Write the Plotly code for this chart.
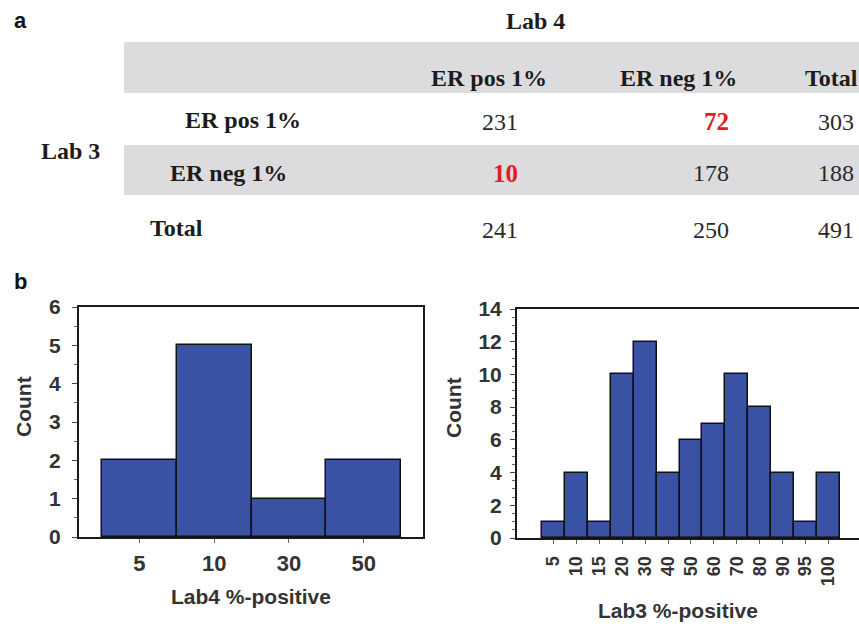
import plotly.graph_objects as go

W, H = 859, 624

# ---------------- data ----------------
lab4_bins = ["5", "10", "30", "50"]
lab4_counts = [2, 5, 1, 2]

lab3_bins = ["5", "10", "15", "20", "30", "40", "50", "60", "70", "80", "90", "95", "100"]
lab3_counts = [1, 4, 1, 10, 12, 4, 6, 7, 10, 8, 4, 1, 4]

table_col_labels = ["ER pos 1%", "ER neg 1%", "Total"]
table_row_labels = ["ER pos 1%", "ER neg 1%", "Total"]
table_values = [
    [231, 72, 303],
    [10, 178, 188],
    [241, 250, 491],
]
discordant_cells = [(0, 1), (1, 0)]

# ---------------- helpers ----------------
def px(x):
    return x / W

def py(y):
    return 1 - y / H

SERIF = "Liberation Serif"
SANS = "Liberation Sans"
BAR = "#3a52a3"
TXT = "#1c1c1c"
AXT = "#333333"

fig = go.Figure()

fig.add_trace(go.Bar(
    x=lab4_bins, y=lab4_counts, width=1,
    marker=dict(color=BAR, line=dict(color="#111111", width=1.5)),
    xaxis="x", yaxis="y", showlegend=False, hoverinfo="skip"))

fig.add_trace(go.Bar(
    x=lab3_bins, y=lab3_counts, width=1,
    marker=dict(color=BAR, line=dict(color="#111111", width=1.5)),
    xaxis="x2", yaxis="y2", showlegend=False, hoverinfo="skip"))

tickfont = dict(family=SANS, size=21, color=AXT, weight="bold")

common_x = dict(type="category", showgrid=False, zeroline=False,
                ticks="outside", ticklen=4, tickcolor="#666666", tickwidth=1,
                showline=True, linecolor="#1a1a1a", linewidth=2, mirror=True,
                fixedrange=True, automargin=False)
common_y = dict(showgrid=False, zeroline=False, ticks="outside", ticklen=5,
                tickcolor="#444444", tickwidth=1,
                showline=True, linecolor="#1a1a1a", linewidth=2,
                tickfont=tickfont, fixedrange=True, automargin=False)

fig.update_layout(
    width=W, height=H, autosize=False,
    margin=dict(l=0, r=0, t=0, b=0, autoexpand=False),
    paper_bgcolor="white", plot_bgcolor="white",
    bargap=0,
    xaxis=dict(**common_x, domain=[px(79), px(423)], range=[-0.808, 3.794],
               tickfont=dict(family=SANS, size=22, color=AXT, weight="bold"),
               ticklabelstandoff=2, anchor="y"),
    yaxis=dict(**common_y, domain=[py(537), py(307)], range=[0, 6], dtick=1,
               mirror=True, anchor="x", ticklabelstandoff=7,
               minor=dict(dtick=0.5, ticks="outside", ticklen=3, tickcolor="#666666")),
    xaxis2=dict(**common_x, domain=[px(517), 1.0], range=[-1.59, 13.33],
                tickangle=-90, tickfont=dict(family=SANS, size=18, color=AXT, weight="bold"),
                ticklabelstandoff=5, anchor="y2"),
    yaxis2=dict(**common_y, domain=[py(538), py(309)], range=[0, 14], dtick=2,
                mirror=False, anchor="x2", ticklabelstandoff=4,
                minor=dict(dtick=0.5, ticks="outside", ticklen=3, tickcolor="#666666")),
)

shapes = []
for (y0, y1) in [(42, 93), (145, 195)]:
    shapes.append(dict(type="rect", xref="paper", yref="paper",
                       x0=px(124), x1=1.0, y0=py(y1), y1=py(y0),
                       fillcolor="#dcdcde", line=dict(width=0), layer="below"))
fig.update_layout(shapes=shapes)

ann = []

def add(text, x, y, xanchor="center", family=SERIF, size=24, color=TXT, weight="bold", angle=0):
    ann.append(dict(text=text, x=px(x), y=py(y), xref="paper", yref="paper",
                    xanchor=xanchor, yanchor="middle", showarrow=False, textangle=angle,
                    font=dict(family=family, size=size, color=color, weight=weight)))

# panel letters
add("a", 12, 21, xanchor="left", family=SANS, size=22, color="#111111")
add("b", 12, 282, xanchor="left", family=SANS, size=22, color="#111111")

# table
add("Lab 4", 535, 21)
add("Lab 3", 70, 151)
hdr_x = [489, 678, 831]
for lbl, x in zip(table_col_labels, hdr_x):
    add(lbl, x, 78)
row_left = [183, 168, 148]
row_y = [120, 173, 228]
for lbl, x, y in zip(table_row_labels, row_left, row_y):
    add(lbl, x, y, xanchor="left")
val_right = [520, 731, 856]
val_y = [122, 173, 230]
for i, row in enumerate(table_values):
    for j, v in enumerate(row):
        if (i, j) in discordant_cells:
            add(str(v), val_right[j], val_y[i], xanchor="right", size=25,
                color="#e31b23", weight="bold")
        else:
            add(str(v), val_right[j], val_y[i], xanchor="right", size=24,
                color="#2a2a2a", weight="normal")

# axis titles
add("Count", 23, 407, family=SANS, size=21, color=AXT, angle=-90)
add("Count", 453, 408, family=SANS, size=21, color=AXT, angle=-90)
add("Lab4 %-positive", 251, 596, family=SANS, size=21, color=AXT)
add("Lab3 %-positive", 678, 610, family=SANS, size=21, color=AXT)

fig.update_layout(annotations=ann)

fig.write_html(
    "out.html",
    config={"displayModeBar": False},
    post_script=(
        "document.body.style.margin='0';document.body.style.padding='0';"
        "document.documentElement.style.overflow='hidden';"
    ),
)
